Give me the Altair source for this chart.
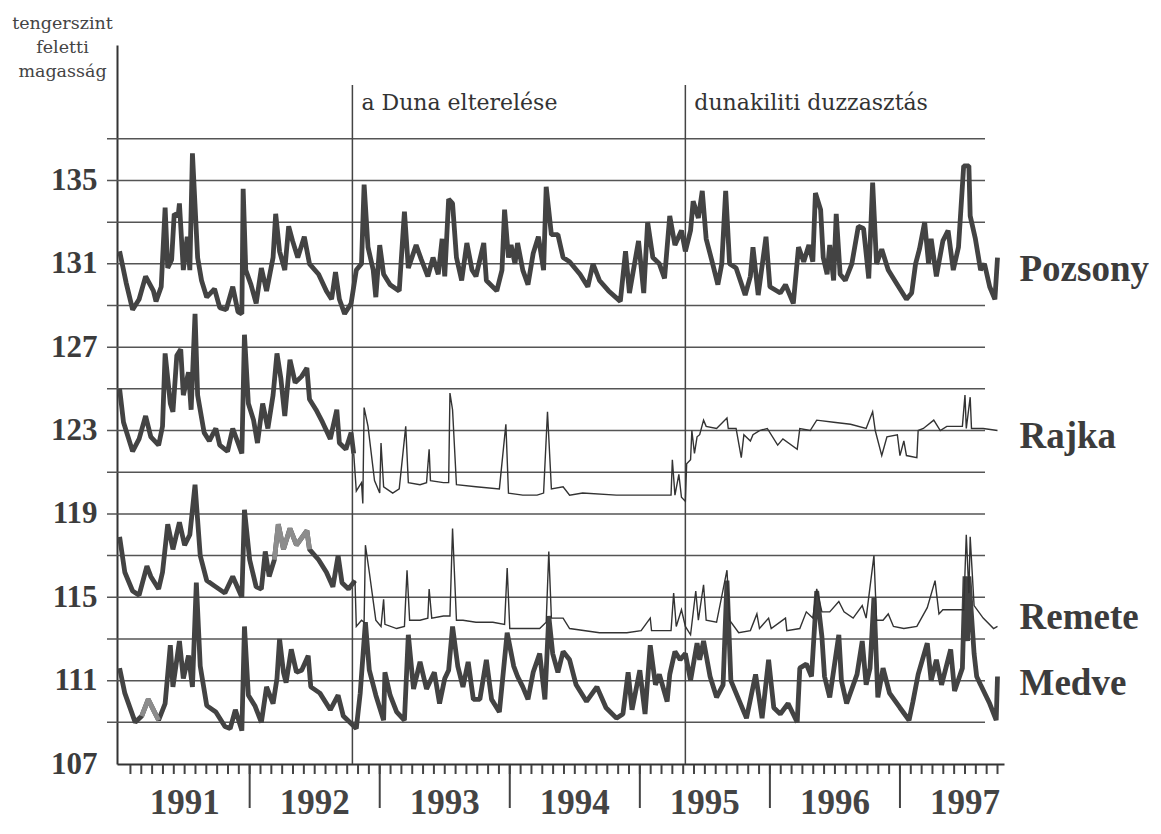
import altair as alt
import pandas as pd

# ---------------- data (decimal year, water level in m above sea level) ----------------
pozsony_t = [1991.00, 1991.05, 1991.10, 1991.15, 1991.20, 1991.26, 1991.28, 1991.32, 1991.35, 1991.37,
             1991.40, 1991.42, 1991.45, 1991.46, 1991.49, 1991.52, 1991.54, 1991.56, 1991.60, 1991.63,
             1991.67, 1991.73, 1991.77, 1991.82, 1991.87, 1991.91, 1991.94, 1991.95, 1991.97, 1992.01,
             1992.05, 1992.09, 1992.13, 1992.18, 1992.20, 1992.23, 1992.27, 1992.30, 1992.33, 1992.37,
             1992.42, 1992.46, 1992.53, 1992.59, 1992.63, 1992.66, 1992.69, 1992.73, 1992.78, 1992.82,
             1992.86, 1992.88, 1992.91, 1992.95, 1992.97, 1993.00, 1993.03, 1993.08, 1993.15, 1993.19,
             1993.22, 1993.28, 1993.32, 1993.37, 1993.41, 1993.45, 1993.48, 1993.50, 1993.53, 1993.56,
             1993.59, 1993.63, 1993.67, 1993.71, 1993.74, 1993.80, 1993.82, 1993.90, 1993.94, 1993.96,
             1993.99, 1994.01, 1994.04, 1994.06, 1994.10, 1994.14, 1994.18, 1994.22, 1994.26, 1994.28,
             1994.32, 1994.37, 1994.41, 1994.46, 1994.54, 1994.60, 1994.64, 1994.69, 1994.76, 1994.85,
             1994.89, 1994.92, 1994.99, 1995.03, 1995.06, 1995.10, 1995.15, 1995.19, 1995.23, 1995.27,
             1995.32, 1995.35, 1995.39, 1995.41, 1995.45, 1995.48, 1995.51, 1995.56, 1995.60, 1995.63,
             1995.66, 1995.69, 1995.74, 1995.81, 1995.85, 1995.87, 1995.91, 1995.97, 1996.00, 1996.08,
             1996.12, 1996.18, 1996.22, 1996.26, 1996.30, 1996.33, 1996.35, 1996.39, 1996.41, 1996.44,
             1996.46, 1996.49, 1996.51, 1996.54, 1996.58, 1996.63, 1996.68, 1996.72, 1996.76, 1996.79,
             1996.82, 1996.86, 1996.91, 1996.98, 1997.05, 1997.09, 1997.12, 1997.15, 1997.19, 1997.22,
             1997.24, 1997.28, 1997.33, 1997.37, 1997.41, 1997.45, 1997.49, 1997.53, 1997.54, 1997.58,
             1997.62, 1997.65, 1997.69, 1997.73, 1997.75]
pozsony_v = [131.6, 130.1, 128.8, 129.3, 130.4, 129.7, 129.2, 129.9, 133.7, 130.8,
             131.2, 133.4, 133.3, 133.9, 130.7, 132.3, 130.7, 136.3, 131.3, 130.2,
             129.4, 129.8, 128.9, 128.8, 129.9, 128.7, 128.6, 134.6, 130.7, 130.0,
             129.1, 130.8, 129.7, 131.3, 133.4, 131.6, 130.7, 132.8, 132.1, 131.3,
             132.3, 131.0, 130.5, 129.7, 129.3, 130.6, 129.3, 128.6, 129.1, 130.7,
             131.0, 134.8, 131.8, 130.7, 129.4, 131.9, 130.5, 130.0, 129.7, 133.5,
             130.8, 131.9, 131.2, 130.4, 131.3, 130.5, 132.2, 130.4, 134.1, 133.9,
             131.3, 130.2, 132.0, 130.7, 130.4, 132.0, 130.2, 129.7, 130.7, 133.6,
             131.3, 131.9, 131.0, 132.0, 130.7, 130.0, 131.5, 132.3, 130.7, 134.7,
             132.4, 132.4, 131.3, 131.1, 130.5, 129.9, 131.0, 130.2, 129.7, 129.2,
             131.6, 129.6, 132.1, 129.6, 133.0, 131.3, 131.0, 130.3, 133.3, 131.9,
             132.6, 131.6, 132.6, 134.0, 133.2, 134.5, 132.2, 131.0, 130.0, 131.0,
             134.5, 131.0, 130.8, 129.5, 130.4, 131.8, 129.5, 132.3, 129.9, 129.6,
             130.0, 129.1, 131.8, 131.1, 131.9, 131.1, 134.4, 133.6, 131.3, 130.5,
             131.9, 130.2, 133.4, 130.5, 130.2, 131.0, 132.8, 132.7, 130.3, 134.9,
             131.0, 131.7, 130.7, 130.0, 129.3, 129.6, 131.0, 131.7, 133.0, 131.0,
             132.2, 130.4, 132.1, 132.6, 130.7, 131.8, 135.7, 135.7, 133.3, 132.2,
             130.7, 131.0, 129.9, 129.3, 131.3]

# Rajka before the diversion (thick) and after it (thin)
rajka_t1 = [1991.00, 1991.03, 1991.10, 1991.15, 1991.20, 1991.24, 1991.30, 1991.33, 1991.35, 1991.39,
            1991.41, 1991.44, 1991.47, 1991.49, 1991.53, 1991.55, 1991.58, 1991.60, 1991.65, 1991.69,
            1991.74, 1991.77, 1991.83, 1991.87, 1991.94, 1991.96, 1991.99, 1992.03, 1992.06, 1992.10,
            1992.14, 1992.18, 1992.21, 1992.24, 1992.27, 1992.31, 1992.35, 1992.40, 1992.44, 1992.46,
            1992.51, 1992.56, 1992.62, 1992.67, 1992.69, 1992.74, 1992.78, 1992.80]
rajka_v1 = [125.0, 123.4, 122.0, 122.6, 123.7, 122.7, 122.3, 123.2, 126.7, 124.3,
            123.9, 126.6, 126.9, 124.7, 125.8, 124.0, 128.6, 124.7, 122.9, 122.5,
            123.1, 122.3, 122.0, 123.1, 121.9, 127.6, 124.3, 123.5, 122.4, 124.3,
            123.1, 124.7, 126.7, 125.5, 123.7, 126.4, 125.3, 125.6, 126.0, 124.5,
            124.0, 123.4, 122.6, 124.0, 122.4, 122.1, 122.9, 121.9]
rajka_t2 = [1992.80, 1992.82, 1992.86, 1992.87, 1992.88, 1992.91, 1992.96, 1993.00, 1993.01, 1993.03,
            1993.10, 1993.15, 1993.20, 1993.22, 1993.31, 1993.36, 1993.38, 1993.39, 1993.49, 1993.53,
            1993.54, 1993.56, 1993.59, 1993.74, 1993.92, 1993.97, 1993.99, 1994.10, 1994.21, 1994.26,
            1994.29, 1994.32, 1994.41, 1994.46, 1994.56, 1994.82, 1995.08, 1995.24, 1995.25, 1995.27,
            1995.30, 1995.32, 1995.35, 1995.36, 1995.39, 1995.40, 1995.42, 1995.44, 1995.46, 1995.49,
            1995.51, 1995.59, 1995.67, 1995.68, 1995.74, 1995.78, 1995.80, 1995.85, 1995.87, 1995.92,
            1995.98, 1996.06, 1996.10, 1996.21, 1996.23, 1996.31, 1996.36, 1996.49, 1996.62, 1996.74,
            1996.79, 1996.81, 1996.86, 1996.90, 1996.98, 1997.00, 1997.03, 1997.05, 1997.13, 1997.14,
            1997.18, 1997.26, 1997.31, 1997.36, 1997.48, 1997.50, 1997.51, 1997.54, 1997.55, 1997.64,
            1997.75]
rajka_v2 = [121.9, 120.1, 120.5, 119.5, 124.1, 123.2, 120.6, 120.0, 122.4, 120.3,
            120.0, 120.2, 123.2, 120.5, 120.4, 120.5, 122.1, 120.6, 120.5, 120.5,
            124.8, 124.0, 120.4, 120.3, 120.2, 123.3, 120.0, 119.9, 119.9, 120.0,
            123.9, 120.2, 120.3, 119.9, 120.0, 119.9, 119.9, 119.9, 121.6, 119.9,
            120.9, 119.8, 119.6, 121.4, 121.6, 123.0, 121.9, 122.7, 122.8, 123.5,
            123.2, 123.1, 123.6, 123.1, 123.1, 121.7, 122.8, 122.5, 122.8, 123.0,
            123.1, 122.3, 122.6, 122.1, 123.1, 123.0, 123.5, 123.4, 123.3, 123.1,
            123.9, 123.0, 121.8, 122.7, 122.8, 121.8, 122.5, 121.8, 121.7, 123.0,
            123.1, 123.5, 123.0, 123.2, 123.2, 124.7, 123.1, 124.6, 123.1, 123.1,
            123.0]

# Remete before the diversion (thick) and after it (thin)
remete_t1 = [1991.00, 1991.04, 1991.10, 1991.15, 1991.21, 1991.24, 1991.30, 1991.33, 1991.37, 1991.41,
             1991.46, 1991.50, 1991.54, 1991.58, 1991.62, 1991.67, 1991.74, 1991.81, 1991.87, 1991.94,
             1991.96, 1992.00, 1992.05, 1992.09, 1992.12, 1992.15, 1992.19, 1992.22, 1992.26, 1992.31,
             1992.36, 1992.44, 1992.46, 1992.53, 1992.59, 1992.64, 1992.68, 1992.71, 1992.76, 1992.81]
remete_v1 = [117.9, 116.2, 115.3, 115.1, 116.5, 116.0, 115.4, 116.2, 118.5, 117.3,
             118.6, 117.5, 118.0, 120.4, 117.0, 115.8, 115.5, 115.2, 116.0, 115.0,
             119.2, 116.8, 115.5, 115.4, 117.2, 116.0, 116.8, 118.5, 117.3, 118.3,
             117.5, 118.2, 117.3, 116.8, 116.2, 115.5, 117.0, 115.7, 115.4, 115.8]
remete_t2 = [1992.81, 1992.82, 1992.86, 1992.88, 1992.89, 1992.92, 1992.97, 1993.01, 1993.03, 1993.04,
             1993.13, 1993.19, 1993.21, 1993.23, 1993.31, 1993.37, 1993.38, 1993.40, 1993.49, 1993.54,
             1993.56, 1993.59, 1993.64, 1993.74, 1993.87, 1993.96, 1993.98, 1994.00, 1994.13, 1994.23,
             1994.28, 1994.30, 1994.32, 1994.41, 1994.46, 1994.69, 1994.90, 1995.01, 1995.08, 1995.09,
             1995.24, 1995.26, 1995.28, 1995.32, 1995.35, 1995.39, 1995.43, 1995.45, 1995.49, 1995.51,
             1995.59, 1995.67, 1995.69, 1995.76, 1995.85, 1995.90, 1995.92, 1995.99, 1996.01, 1996.12,
             1996.13, 1996.23, 1996.28, 1996.33, 1996.36, 1996.40, 1996.46, 1996.53, 1996.57, 1996.64,
             1996.71, 1996.74, 1996.80, 1996.82, 1996.87, 1996.91, 1996.95, 1997.03, 1997.13, 1997.21,
             1997.27, 1997.30, 1997.33, 1997.39, 1997.49, 1997.51, 1997.53, 1997.54, 1997.57, 1997.64,
             1997.72, 1997.75]
remete_v2 = [115.8, 113.6, 113.9, 113.8, 117.5, 116.2, 113.9, 113.6, 114.9, 113.7,
             113.5, 113.6, 116.3, 113.9, 113.9, 114.0, 115.4, 114.0, 114.1, 114.1,
             118.3, 113.9, 113.9, 113.8, 113.8, 113.7, 116.4, 113.5, 113.5, 113.5,
             113.8, 117.2, 114.0, 114.0, 113.5, 113.3, 113.3, 113.4, 114.0, 113.4,
             113.4, 115.2, 113.6, 114.4, 113.6, 113.2, 115.3, 113.9, 115.6, 113.9,
             113.8, 116.3, 113.9, 113.3, 113.4, 114.2, 113.5, 114.0, 113.5, 114.0,
             113.4, 113.5, 114.3, 114.0, 115.4, 114.3, 114.3, 114.8, 114.3, 114.0,
             114.6, 114.0, 117.0, 113.9, 113.9, 114.2, 113.6, 113.5, 113.6, 114.5,
             115.8, 114.2, 114.4, 114.4, 114.4, 118.0, 115.2, 117.9, 114.6, 114.0,
             113.5, 113.6]

medve_t = [1991.00, 1991.04, 1991.12, 1991.17, 1991.22, 1991.26, 1991.30, 1991.35, 1991.39, 1991.41,
           1991.46, 1991.49, 1991.53, 1991.56, 1991.59, 1991.62, 1991.67, 1991.74, 1991.81, 1991.85,
           1991.89, 1991.94, 1991.96, 1991.99, 1992.04, 1992.09, 1992.13, 1992.18, 1992.21, 1992.23,
           1992.26, 1992.28, 1992.32, 1992.36, 1992.40, 1992.45, 1992.47, 1992.54, 1992.62, 1992.68,
           1992.72, 1992.77, 1992.82, 1992.85, 1992.89, 1992.92, 1992.97, 1993.03, 1993.04, 1993.08,
           1993.13, 1993.19, 1993.22, 1993.26, 1993.31, 1993.36, 1993.42, 1993.46, 1993.50, 1993.53,
           1993.56, 1993.60, 1993.64, 1993.68, 1993.72, 1993.77, 1993.82, 1993.86, 1993.92, 1993.98,
           1994.03, 1994.06, 1994.10, 1994.14, 1994.18, 1994.23, 1994.27, 1994.30, 1994.33, 1994.37,
           1994.41, 1994.46, 1994.51, 1994.59, 1994.67, 1994.74, 1994.82, 1994.87, 1994.91, 1994.94,
           1995.00, 1995.04, 1995.08, 1995.12, 1995.15, 1995.21, 1995.23, 1995.27, 1995.31, 1995.35,
           1995.39, 1995.44, 1995.46, 1995.49, 1995.54, 1995.59, 1995.64, 1995.67, 1995.70, 1995.74,
           1995.82, 1995.89, 1995.94, 1995.99, 1996.03, 1996.08, 1996.14, 1996.21, 1996.23, 1996.28,
           1996.32, 1996.36, 1996.40, 1996.42, 1996.46, 1996.53, 1996.55, 1996.59, 1996.67, 1996.71,
           1996.74, 1996.77, 1996.80, 1996.83, 1996.87, 1996.92, 1997.00, 1997.07, 1997.10, 1997.14,
           1997.21, 1997.24, 1997.28, 1997.32, 1997.39, 1997.42, 1997.48, 1997.50, 1997.52, 1997.53,
           1997.57, 1997.59, 1997.62, 1997.69, 1997.74, 1997.75]
medve_v = [111.6, 110.4, 109.0, 109.3, 110.1, 109.6, 109.1, 109.9, 112.7, 110.7,
           112.9, 111.1, 112.2, 110.7, 115.7, 111.7, 109.8, 109.5, 108.8, 108.7,
           109.6, 108.6, 113.6, 110.3, 109.8, 109.0, 110.7, 109.9, 111.1, 113.0,
           111.4, 110.9, 112.5, 111.4, 111.5, 112.2, 110.7, 110.4, 109.6, 110.3,
           109.3, 109.0, 108.7, 110.4, 113.8, 111.5, 110.3, 109.1, 111.4, 110.3,
           109.5, 109.1, 113.2, 110.6, 111.9, 110.6, 111.4, 109.9, 111.1, 111.5,
           113.6, 111.7, 110.7, 111.9, 110.1, 110.1, 112.0, 110.1, 109.5, 113.3,
           111.7, 111.2, 110.7, 110.1, 111.4, 112.3, 110.1, 114.1, 112.3, 111.4,
           112.4, 112.0, 110.8, 110.0, 110.7, 109.7, 109.2, 109.4, 111.4, 109.6,
           111.5, 109.4, 112.7, 110.8, 111.3, 110.0, 111.3, 112.4, 112.0, 112.3,
           111.0, 112.8, 112.0, 112.9, 111.2, 110.2, 110.8, 115.8, 111.0, 110.4,
           109.2, 111.3, 109.2, 112.0, 109.7, 109.4, 109.9, 109.0, 111.6, 111.8,
           111.2, 115.3, 113.1, 111.2, 110.2, 113.2, 111.0, 109.9, 111.3, 112.9,
           110.8, 111.6, 115.0, 110.2, 111.6, 110.4, 109.7, 109.1, 110.0, 111.3,
           112.8, 111.0, 112.0, 110.8, 112.5, 110.5, 111.6, 116.0, 112.9, 116.0,
           112.3, 111.2, 110.8, 109.9, 109.1, 111.2]

gray_spans = [("Remete", 1992.19, 1992.46), ("Medve", 1991.17, 1991.30)]

y_labels = [107, 111, 115, 119, 123, 127, 131, 135]
grid_levels = [109, 111, 113, 115, 117, 119, 121, 123, 125, 127, 129, 131, 133, 135, 137]
years = [1991, 1992, 1993, 1994, 1995, 1996, 1997]
events_t = [1992.79, 1995.35]
events_text = ["a Duna elterelése", "dunakiliti duzzasztás"]
y_title = ["tengerszint", "feletti", "magasság"]
stations = ["Pozsony", "Rajka", "Remete", "Medve"]

# ---------------- tables ----------------
def frame(name, ts, vs):
    return pd.DataFrame({"station": name, "t": ts, "v": vs})

thick_df = pd.concat([frame("Pozsony", pozsony_t, pozsony_v),
                      frame("Rajka", rajka_t1, rajka_v1),
                      frame("Remete", remete_t1, remete_v1),
                      frame("Medve", medve_t, medve_v)], ignore_index=True)
thin_df = pd.concat([frame("Rajka", rajka_t2, rajka_v2),
                     frame("Remete", remete_t2, remete_v2)], ignore_index=True)
gray_df = pd.concat([thick_df[(thick_df.station == s) & (thick_df.t >= a) & (thick_df.t <= b)]
                     for s, a, b in gray_spans], ignore_index=True)
ends_df = pd.DataFrame({
    "station": stations,
    "t": [pozsony_t[-1], rajka_t2[-1], remete_t2[-1], medve_t[-1]],
    "v": [pozsony_v[-1], rajka_v2[-1], remete_v2[-1], medve_v[-1]],
})
grid_df = pd.DataFrame({"v": grid_levels})
year_df = pd.DataFrame({"label": [str(y) for y in years], "t": [y + 0.5 for y in years]})
event_df = pd.DataFrame({"t": events_t, "label": events_text})
month_df = pd.DataFrame({"t": [round(1991 + i / 12, 5) for i in range(1, 82)]})
yearmark_df = pd.DataFrame({"t": years[1:]})

# ---------------- chart ----------------
xs = alt.Scale(domain=[1990.98, 1997.80], nice=False, zero=False)
ys = alt.Scale(domain=[107, 141.5], nice=False, zero=False)
INK = "#434343"
SERIF = "Liberation Serif"

y_axis = alt.Axis(values=y_labels, format="d", tickSize=0, labelPadding=20, grid=False,
                  domainColor="#333333", domainWidth=2,
                  labelFont=SERIF, labelFontSize=31, labelFontWeight="bold", labelColor="#3c3c3c",
                  labelOverlap=False,
                  title=y_title, titleAngle=0, titleAlign="center", titleBaseline="alphabetic",
                  titleX=-55, titleY=-17, titleFont="DejaVu Serif", titleFontSize=17.5,
                  titleFontWeight="normal", titleColor="#444444", titleLineHeight=24)
x_axis = alt.Axis(ticks=False, labels=False, grid=False, title=None,
                  domainColor="#333333", domainWidth=2)

X = alt.X("t:Q", scale=xs, axis=x_axis)
Y = alt.Y("v:Q", scale=ys, axis=y_axis)

grid = alt.Chart(grid_df).mark_rule(color="#555555", strokeWidth=1.5).encode(
    y=Y, x=alt.value(-10), x2=alt.value(868))

# month ticks and the long year-boundary ticks under the time axis
month_marks = alt.Chart(month_df).mark_rule(color="#444444", strokeWidth=2).encode(
    x=X, y=alt.value(720), y2=alt.value(729))
year_marks = alt.Chart(yearmark_df).mark_rule(color="#444444", strokeWidth=2).encode(
    x=X, y=alt.value(720), y2=alt.value(763))

event_rules = alt.Chart(event_df).mark_rule(color="#444444", strokeWidth=1.5).encode(
    x=X, y=alt.value(40), y2=alt.value(719))

event_text = alt.Chart(event_df).mark_text(
    align="left", baseline="alphabetic", dx=9, font="DejaVu Serif", fontSize=22, color="#333333"
).encode(x=X, y=alt.value(65), text="label:N")

thick = alt.Chart(thick_df).mark_line(color=INK, strokeWidth=4.8, strokeJoin="bevel").encode(
    x=X, y=Y, detail="station:N")

gray = alt.Chart(gray_df).mark_line(color="#8c8c8c", strokeWidth=4.8, strokeJoin="bevel").encode(
    x=X, y=Y, detail="station:N")

thin = alt.Chart(thin_df).mark_line(color="#333333", strokeWidth=1.4).encode(
    x=X, y=Y, detail="station:N")

year_text = alt.Chart(year_df).mark_text(
    align="center", baseline="alphabetic", font=SERIF, fontWeight="bold", fontSize=35, color="#444444"
).encode(x=X, y=alt.value(769), text="label:N")

# vertical nudge (px) of each station name relative to the series' last point
label_dy = {"Pozsony": 12, "Rajka": 6, "Remete": -8, "Medve": 8}
station_layers = [
    alt.Chart(ends_df).transform_filter(alt.datum.station == s).mark_text(
        align="left", baseline="middle", dx=22, dy=label_dy[s], font=SERIF, fontWeight="bold",
        fontSize=37, color="#3c3c3c"
    ).encode(x=X, y=Y, text="station:N")
    for s in stations
]

chart = alt.layer(grid, month_marks, year_marks, event_rules, thick, gray, thin,
                  event_text, year_text, *station_layers).properties(
    width=887, height=719,
    padding={"left": 109, "top": 37, "right": 145, "bottom": 62},
    autosize=alt.AutoSizeParams(type="none"),
).configure_view(stroke=None)

chart.save("out.html", embed_options={"renderer": "svg", "actions": False})
